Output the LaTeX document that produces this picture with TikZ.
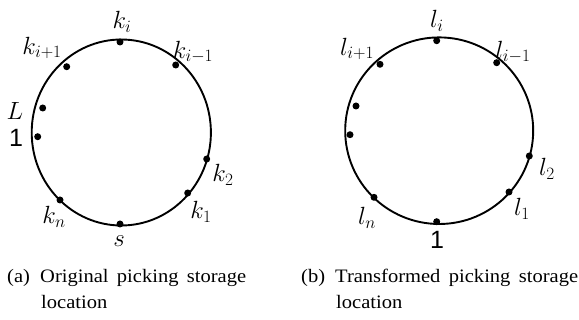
\documentclass[tikz,border=0pt]{standalone}
\usepackage{fontspec}
\setmainfont{Liberation Serif}
\setsansfont{Liberation Sans}
\newfontfamily\captfont[FakeStretch=1.08]{Liberation Serif}
\usepackage{tikz}
\usetikzlibrary{positioning}
\DeclareMathSizes{25}{25}{19}{15}

\begin{document}
\begin{tikzpicture}[
  x=1pt,y=-1pt,
  every node/.style={inner sep=0pt},
  ring/.style={draw,line width=1.9pt},
  spot/.style={circle,fill,minimum size=7pt},
  tag/.style={font=\fontsize{25}{28}\selectfont},
  capt/.style={anchor=base west,font=\captfont\fontsize{19}{22}\selectfont}
]
\useasboundingbox (0,0) rectangle (579,320);
% original
\coordinate (ca) at (121.3,132.5);
\draw[ring] (ca) ellipse [x radius=89.6,y radius=93];
\node[spot] (a0) at (120,42)    {};
\node[spot] (a1) at (66.7,66.7) {};
\node[spot] (a2) at (175.7,65)  {};
\node[spot] (a3) at (42.7,108)  {};
\node[spot] (a4) at (37.7,136.7){};
\node[spot] (a5) at (206.7,159) {};
\node[spot] (a6) at (187.7,193) {};
\node[spot] (a7) at (60,200)    {};
\node[spot] (a8) at (120,224)   {};
\node[tag] (ka0) at (122,22)  {$k_i$};
\node[tag] (ka1) at (42,48)   {$k_{i+1}$};
\node[tag] (ka2) at (193,52)  {$k_{i-1}$};
\node[tag] (ka3) at (15,111)  {$L$};
\node[tag] (ka4) at (16,138)  {\sffamily 1};
\node[tag] (ka5) at (223,175) {$k_2$};
\node[tag] (ka6) at (201,212) {$k_1$};
\node[tag] (ka7) at (54,217)  {$k_n$};
\node[tag] (ka8) at (119,241) {$s$};
% transformed
\coordinate (cb) at (439.2,130.7);
\draw[ring] (cb) ellipse [x radius=94,y radius=93.3];
\node[spot] (b0) at (436.7,40.7) {};
\node[spot] (b1) at (380,64.3)   {};
\node[spot] (b2) at (496.7,62.7) {};
\node[spot] (b3) at (356,106)    {};
\node[spot] (b4) at (350,134.7)  {};
\node[spot] (b5) at (529.3,156)  {};
\node[spot] (b6) at (509,192)    {};
\node[spot] (b7) at (374,197.3)  {};
\node[spot] (b8) at (436.7,221.7){};
\node[tag] (lb0) at (437,21)  {$l_i$};
\node[tag] (lb1) at (357,49)  {$l_{i+1}$};
\node[tag] (lb2) at (513,52)  {$l_{i-1}$};
\node[tag] (lb5) at (547,169) {$l_2$};
\node[tag] (lb6) at (522,209) {$l_1$};
\node[tag] (lb7) at (367,218) {$l_n$};
\node[tag] (lb8) at (437,240) {\sffamily 1};
% captions
\node[capt] (qa) at (7,283)   {(a)};
\node[capt] (ta) at (40,283)  {\makebox[206pt][s]{Original picking storage}};
\node[capt] (ua) at (41,309)  {location};
\node[capt] (qb) at (301,283) {(b)};
\node[capt] (tb) at (335,283) {\makebox[243pt][s]{Transformed picking storage}};
\node[capt] (ub) at (336,309) {location};
\end{tikzpicture}
\end{document}
